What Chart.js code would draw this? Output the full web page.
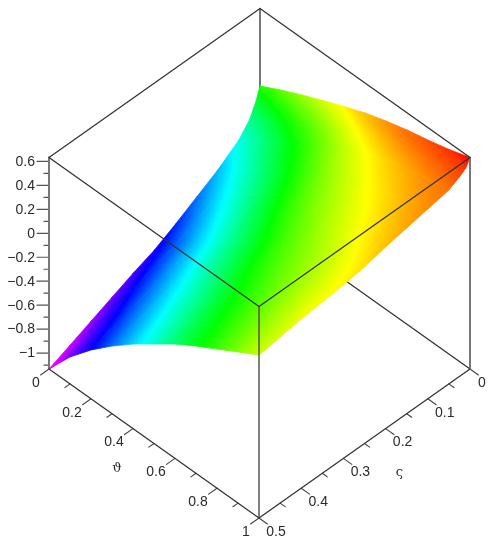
<!DOCTYPE html>
<html>
<head>
<meta charset="utf-8">
<script src="https://cdn.jsdelivr.net/npm/chart.js@4"></script>
<style>
html,body{margin:0;padding:0;background:#fff}
canvas{display:block}
</style>
</head>
<body>
<canvas id="c" width="496" height="550"></canvas>
<script>
// Surface samples
const thetaValues = [0, 0.1, 0.2, 0.3, 0.4, 0.5, 0.6, 0.7, 0.8, 0.9, 1];
const sigmaValues = [0, 0.01, 0.025, 0.05, 0.1, 0.15, 0.2, 0.25, 0.3, 0.35, 0.4, 0.45, 0.5];
const zRows = [
  [-0.014, 0.077, 0.160, 0.238, 0.313, 0.383, 0.440, 0.490, 0.530, 0.576, 0.633],
  [-0.123,-0.027, 0.069, 0.163, 0.260, 0.353, 0.421, 0.474, 0.512, 0.545, 0.570],
  [-0.235,-0.129,-0.024, 0.079, 0.186, 0.289, 0.366, 0.427, 0.471, 0.507, 0.533],
  [-0.340,-0.225,-0.114,-0.004, 0.107, 0.213, 0.294, 0.360, 0.411, 0.453, 0.486],
  [-0.466,-0.335,-0.214,-0.098, 0.017, 0.126, 0.216, 0.290, 0.348, 0.404, 0.452],
  [-0.568,-0.424,-0.295,-0.172,-0.054, 0.058, 0.152, 0.231, 0.298, 0.359, 0.418],
  [-0.669,-0.513,-0.374,-0.245,-0.121,-0.007, 0.092, 0.177, 0.250, 0.319, 0.383],
  [-0.761,-0.593,-0.448,-0.314,-0.188,-0.072, 0.033, 0.121, 0.197, 0.272, 0.341],
  [-0.829,-0.651,-0.498,-0.362,-0.235,-0.120,-0.013, 0.078, 0.158, 0.237, 0.315],
  [-0.905,-0.715,-0.555,-0.415,-0.288,-0.173,-0.062, 0.031, 0.123, 0.213, 0.297],
  [-0.981,-0.779,-0.611,-0.467,-0.336,-0.219,-0.103,-0.005, 0.090, 0.186, 0.280],
  [-1.058,-0.844,-0.669,-0.518,-0.383,-0.261,-0.141,-0.038, 0.059, 0.157, 0.253],
  [-1.133,-0.908,-0.725,-0.568,-0.427,-0.302,-0.178,-0.070, 0.029, 0.129, 0.228]
];
const zAxisRange = [-1.133, 0.633];
const thetaRange = [0, 1];
const sigmaRange = [0, 0.5];

// Colour ramp: height and the hue it shows
const rampHeights = [0.633, 0.30, -0.05, -0.37, -0.72, -1.133];
const rampHues = [0, 60, 120, 180, 240, 300];

// Tick values and labels
const zMajorTicks = [0.6, 0.4, 0.2, 0, -0.2, -0.4, -0.6, -0.8, -1];
const zMajorLabels = ['0.6', '0.4', '0.2', '0', '\u22120.2', '\u22120.4', '\u22120.6', '\u22120.8', '\u22121'];
const zMinorTicks = [0.5, 0.3, 0.1, -0.1, -0.3, -0.5, -0.7, -0.9, -1.1];
const thetaMajorTicks = [0, 0.2, 0.4, 0.6, 0.8, 1];
const thetaMajorLabels = ['0', '0.2', '0.4', '0.6', '0.8', '1'];
const thetaMinorTicks = [0.1, 0.3, 0.5, 0.7, 0.9];
const sigmaMajorTicks = [0, 0.1, 0.2, 0.3, 0.4, 0.5];
const sigmaMajorLabels = ['0', '0.1', '0.2', '0.3', '0.4', '0.5'];
const sigmaMinorTicks = [0.05, 0.15, 0.25, 0.35, 0.45];
const thetaTitle = '\u03D1';
const sigmaTitle = '\u03C2';

// Oblique view of the box on the page
function project(theta, sigma, z) {
  const u = theta, v = (0.5 - sigma) / 0.5;
  return {
    x: 49 + 210 * u + 211 * v,
    y: 369 + 149 * u - 149 * v - (z - zAxisRange[0]) * 119.75
  };
}

const zLo = zAxisRange[0], zHi = zAxisRange[1];
function zColor(z) {
  let h = 300;
  if (z >= rampHeights[0]) h = 0;
  else {
    for (let i = 0; i < rampHeights.length - 1; i++) {
      if (z <= rampHeights[i] && z >= rampHeights[i + 1]) {
        const f = (rampHeights[i] - z) / (rampHeights[i] - rampHeights[i + 1]);
        h = rampHues[i] + f * (rampHues[i + 1] - rampHues[i]);
        break;
      }
    }
  }
  return 'hsl(' + h.toFixed(1) + ',100%,50%)';
}

function triangleFill(tri) {
  let memo = null;
  return function (context) {
    if (memo) return memo;
    const chart = context.chart;
    const fallback = zColor((tri[0].z + tri[1].z + tri[2].z) / 3);
    const sx = chart.scales.x, sy = chart.scales.y;
    if (!sx || !sy || !chart.chartArea || !(sx.width > 0) || !(sy.height > 0)) return fallback;
    const P = tri.map(p => ({x: sx.getPixelForValue(p.x), y: sy.getPixelForValue(p.y), z: p.z}));
    const d1x = P[1].x - P[0].x, d1y = P[1].y - P[0].y, d1z = P[1].z - P[0].z;
    const d2x = P[2].x - P[0].x, d2y = P[2].y - P[0].y, d2z = P[2].z - P[0].z;
    const det = d1x * d2y - d2x * d1y;
    const a = Math.min(P[0].z, P[1].z, P[2].z), b = Math.max(P[0].z, P[1].z, P[2].z);
    if (Math.abs(det) < 1e-6 || b - a < 1e-5) return fallback;
    const gx = (d1z * d2y - d2z * d1y) / det, gy = (d1x * d2z - d2x * d1z) / det;
    const g2 = gx * gx + gy * gy;
    const sA = (a - P[0].z) / g2, sB = (b - P[0].z) / g2;
    const coords = [P[0].x + gx * sA, P[0].y + gy * sA, P[0].x + gx * sB, P[0].y + gy * sB];
    if (!coords.every(Number.isFinite)) return fallback;
    const grad = chart.ctx.createLinearGradient(coords[0], coords[1], coords[2], coords[3]);
    const n = 8;
    for (let k = 0; k <= n; k++) grad.addColorStop(k / n, zColor(a + (b - a) * k / n));
    memo = grad;
    return grad;
  };
}

const datasets = [];
function addLine(points, color, width, order) {
  datasets.push({
    data: points, showLine: true, fill: false, borderColor: color, borderWidth: width,
    pointRadius: 0, tension: 0, order: order, clip: false, borderCapStyle: 'round'
  });
}
function surfacePoint(i, j) {
  const p = project(thetaValues[j], sigmaValues[i], zRows[i][j]);
  return {x: p.x, y: p.y, z: zRows[i][j]};
}
function addTriangle(a, b, c) {
  const tri = [a, b, c];
  const paint = triangleFill(tri);
  datasets.push({
    data: [a, b, c, a], showLine: true, fill: 'shape', tension: 0, pointRadius: 0,
    backgroundColor: paint, borderColor: paint, borderWidth: 0.8, order: 50, clip: false
  });
}

const [sMin, sMax] = sigmaRange, [tMin, tMax] = thetaRange;
// Box edges hidden behind the surface
const backColor = '#333';
addLine([project(tMin, sMin, zLo), project(tMin, sMin, zHi)], '#555', 1.6, 100);
addLine([project(tMin, sMax, zLo), project(tMin, sMin, zLo), project(tMax, sMin, zLo)], backColor, 1.3, 100);

// Surface
for (let i = 0; i < sigmaValues.length - 1; i++) {
  for (let j = 0; j < thetaValues.length - 1; j++) {
    const a = surfacePoint(i, j), b = surfacePoint(i, j + 1);
    const c = surfacePoint(i + 1, j + 1), d = surfacePoint(i + 1, j);
    addTriangle(a, b, c);
    addTriangle(a, c, d);
  }
}

// Box edges in front
addLine([project(tMin, sMax, zHi), project(tMin, sMin, zHi), project(tMax, sMin, zHi), project(tMax, sMax, zHi), project(tMin, sMax, zHi)], backColor, 1.3, 10);
addLine([project(tMin, sMax, zLo), project(tMax, sMax, zLo), project(tMax, sMin, zLo)], backColor, 1.3, 10);
addLine([project(tMin, sMax, zLo), project(tMin, sMax, zHi)], '#777', 2, 10);
addLine([project(tMax, sMin, zLo), project(tMax, sMin, zHi)], '#777', 2, 10);
addLine([project(tMax, sMax, zLo), project(tMax, sMax, zHi)], '#4a4a4a', 1.4, 10);

// Tick marks
function pixelOffset(p, dx) { return {x: p.x + dx, y: p.y}; }
zMajorTicks.forEach(z => { const p = project(tMin, sMax, z); addLine([p, pixelOffset(p, -12)], '#555', 1.2, 10); });
zMinorTicks.forEach(z => { const p = project(tMin, sMax, z); addLine([p, pixelOffset(p, -5)], '#555', 1.2, 10); });
thetaMajorTicks.forEach(t => addLine([project(t, sMax, zLo), project(t, sMax + 0.02, zLo)], '#444', 1.1, 10));
thetaMinorTicks.forEach(t => addLine([project(t, sMax, zLo), project(t, sMax + 0.012, zLo)], '#444', 1.1, 10));
sigmaMajorTicks.forEach(s => addLine([project(tMax, s, zLo), project(tMax + 0.04, s, zLo)], '#444', 1.1, 10));
sigmaMinorTicks.forEach(s => addLine([project(tMax, s, zLo), project(tMax + 0.024, s, zLo)], '#444', 1.1, 10));

// Axis text
const labelPlugin = {
  id: 'axisText',
  afterDatasetsDraw(chart) {
    const ctx = chart.ctx, sx = chart.scales.x, sy = chart.scales.y;
    const put = (txt, p, dx, dy, align) => {
      ctx.textAlign = align;
      ctx.fillText(txt, sx.getPixelForValue(p.x) + dx, sy.getPixelForValue(p.y) + dy);
    };
    ctx.save();
    ctx.fillStyle = '#2a2a2a';
    ctx.textBaseline = 'middle';
    ctx.font = '14px "Liberation Sans", sans-serif';
    zMajorTicks.forEach((z, i) => put(zMajorLabels[i], project(tMin, sMax, z), -14, 0.5, 'right'));
    thetaMajorTicks.forEach((t, i) => put(thetaMajorLabels[i], project(t, sMax, zLo), thetaMajorLabels[i].length > 1 ? -19 : -13, 14, 'center'));
    sigmaMajorTicks.forEach((s, i) => put(sigmaMajorLabels[i], project(tMax, s, zLo), sigmaMajorLabels[i].length > 1 ? 17 : 12, 14, 'center'));
    ctx.font = '13px "DejaVu Serif", serif';
    put(thetaTitle, project(0.5, sMax, zLo), -37, 25.5, 'center');
    put(sigmaTitle, project(tMax, 0.25, zLo), 35, 29.5, 'center');
    ctx.restore();
  }
};

new Chart(document.getElementById('c'), {
  type: 'scatter',
  data: {datasets: datasets},
  plugins: [labelPlugin],
  options: {
    responsive: false,
    animation: false,
    events: [],
    layout: {padding: 0},
    plugins: {legend: {display: false}, tooltip: {enabled: false}, title: {display: false}},
    scales: {
      x: {type: 'linear', min: 0, max: 496, display: false},
      y: {type: 'linear', min: 0, max: 550, reverse: true, display: false}
    }
  }
});
</script>
</body>
</html>
